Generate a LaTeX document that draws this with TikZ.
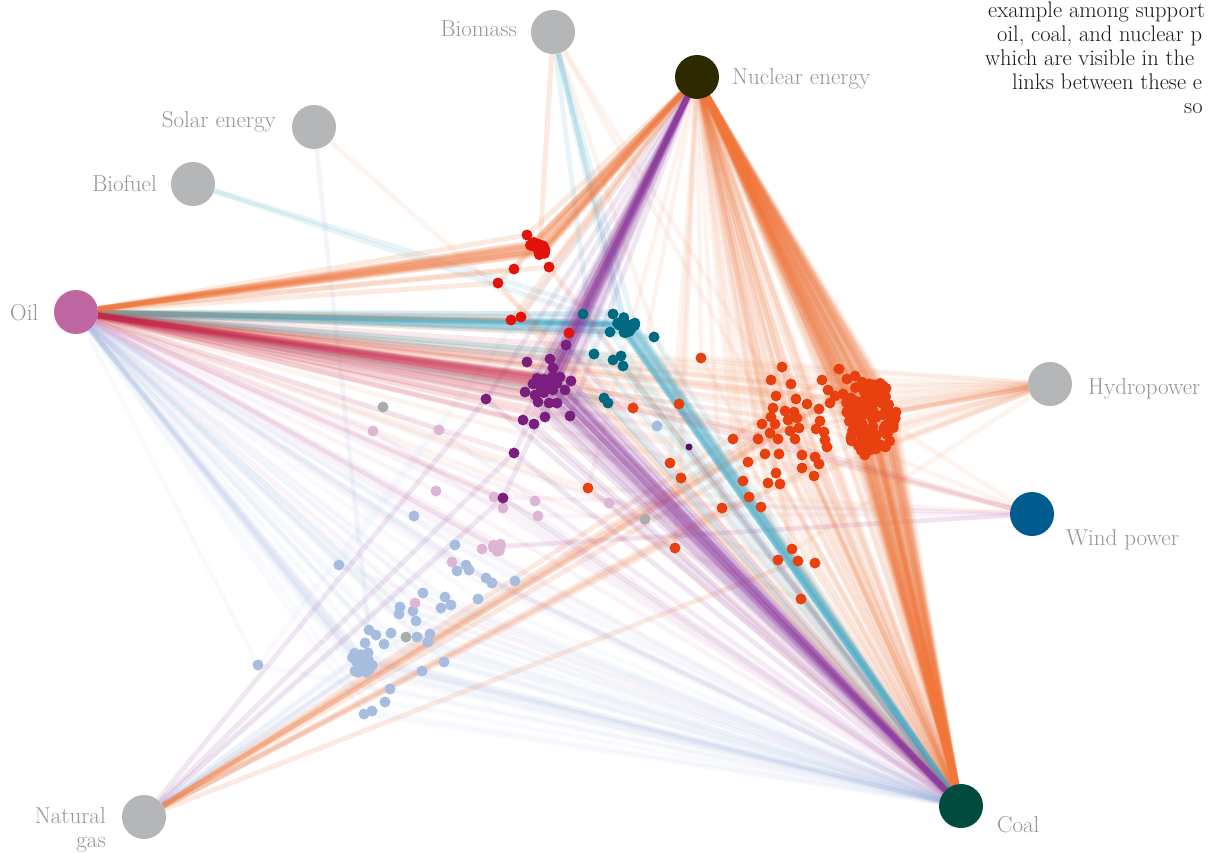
\documentclass[tikz,border=0pt]{standalone}
\usepackage{fontspec}
\pgfdeclarelayer{bg}
\pgfsetlayers{bg,main}
\definecolor{cRed}{HTML}{E3120B}
\definecolor{cTeal}{HTML}{006A80}
\definecolor{cPur}{HTML}{7B1F7E}
\definecolor{cDPur}{HTML}{5A0F62}
\definecolor{cOra}{HTML}{E8400F}
\definecolor{cLb}{HTML}{A7BDE0}
\definecolor{cPk}{HTML}{DDB6D6}
\definecolor{cGr}{HTML}{A9ACAC}
\definecolor{hubGr}{HTML}{B4B6B7}
\definecolor{cNuc}{HTML}{2E2A00}
\definecolor{cOil}{HTML}{C066A2}
\definecolor{cWind}{HTML}{005C8E}
\definecolor{cCoal}{HTML}{004A3E}
\definecolor{lblGr}{HTML}{959595}
\definecolor{lOra}{HTML}{F0763A}
\definecolor{lTeal}{HTML}{4FB0CC}
\definecolor{lPur}{HTML}{8E3C9E}
\definecolor{lCrim}{HTML}{C8284E}
\definecolor{lLb}{HTML}{9CB2E4}
\definecolor{lPk}{HTML}{D49ACB}
\newcommand{\myblob}[7]{%
  \foreach \k in {1,...,#6}{%
    \pgfmathsetmacro\ang{360*rnd}%
    \pgfmathsetmacro\rr{sqrt(rnd)}%
    \node[dot,fill=#7] (#1\k) at ({#2+#4*\rr*cos(\ang)},{#3+#5*\rr*sin(\ang)}) {};}}
\def\Rlist{527/235,549/267,514/269,498/283,511/320,521/317,569/333}
\def\Tlist{583/314,613/314,610/332,654/337,594/354,613/360,621/356,623/366,604/398,608/403}
\def\Plist{566/345,550/359,527/362,553/368,560/377,571/381,565/390,525/392,533/384,486/399,523/420,534/424,545/417,570/416,557/403,535/395,538/402,549/403,514/453,503/498}
\def\Olist{782/367,839/369,771/380,791/384,822/380,847/379,855/376,862/382,872/385,776/396,796/399,807/404,828/390,835/396,843/394,830/403,773/408,785/411,794/412,819/409,771/417,788/420,797/418,820/421,762/424,775/424,799/428,790/431,816/429,824/432,770/433,758/439,778/439,795/439,825/440,733/439,827/447,765/454,779/454,802/455,815/457,748/462,802/468,819/464,776/473,814/476,743/481,768/483,780/484,749/497,701/358,679/404,633/408,670/463,681/478,722/508,761/507,588/488,675/548,792/549,778/560,798/561,815/563,801/599}
\def\Llist{414/516,455/545,339/565,466/565,457/571,469/570,486/578,492/583,515/581,423/593,445/597,478/599,400/607,399/614,413/611,441/608,451/605,416/621,369/630,376/635,391/633,417/637,430/634,428/642,384/644,365/643,258/665,422/671,444/662,390/689,385/702,372/711,364/714,657/426}
\def\Klist{373/431,439/430,436/491,494/497,503/508,535/501,538/516,482/549,452/562,415/603,609/503}
\begin{document}
\begin{tikzpicture}[x=1pt,y=-1pt,
  dot/.style={circle,inner sep=0pt,minimum size=11pt},
  hub/.style={circle,inner sep=0pt,minimum size=44pt},
  lbl/.style={text=lblGr,font=\fontsize{23}{24}\selectfont,inner sep=0pt},
  body/.style={text=black!90,font=\fontsize{22.5}{24}\selectfont,inner sep=0pt,anchor=base west},
  lo/.style={line width=4.5pt,draw=lOra,opacity=0.075},
  lr/.style={line width=5pt,draw=lOra,opacity=0.15},
  lt/.style={line width=5pt,draw=lTeal,opacity=0.13},
  lp/.style={line width=5pt,draw=lPur,opacity=0.12},
  lc/.style={line width=5pt,draw=lCrim,opacity=0.10},
  ll/.style={line width=4.5pt,draw=lLb,opacity=0.06},
  lk/.style={line width=4.5pt,draw=lPk,opacity=0.10}]
\useasboundingbox (0,0) rectangle (1209,853);
\clip (0,0) rectangle (1209,853);
\pgfmathsetseed{11}
% hubs
\node[hub,fill=hubGr] (bio) at (553,32) {};
\node[hub,fill=cNuc] (nuc) at (697,77) {};
\node[hub,fill=hubGr] (sol) at (314,127) {};
\node[hub,fill=hubGr] (bfu) at (193,184) {};
\node[hub,fill=cOil] (oil) at (76,312) {};
\node[hub,fill=hubGr] (hyd) at (1050,384) {};
\node[hub,fill=cWind] (wnd) at (1032,514) {};
\node[hub,fill=hubGr] (gas) at (144,817) {};
\node[hub,fill=cCoal] (coal) at (961,806) {};
% hub labels
\node[lbl,anchor=base east] (bioL) at (517,37) {Biomass};
\node[lbl,anchor=base west] (nucL) at (732,85) {Nuclear energy};
\node[lbl,anchor=base east] (solL) at (276,128) {Solar energy};
\node[lbl,anchor=base east] (bfuL) at (157,191) {Biofuel};
\node[lbl,anchor=base west] (oilL) at (10,320) {Oil};
\node[lbl,anchor=base west] (hydL) at (1088,394) {Hydropower};
\node[lbl,anchor=base west] (wndL) at (1066,545) {Wind power};
\node[lbl,anchor=base east] (gasL1) at (106,823) {Natural};
\node[lbl,anchor=base east] (gasL2) at (106,847) {gas};
\node[lbl,anchor=base west] (coalL) at (997,832) {Coal};
% text block, top right (visible part only)
\node[body] (t1) at (988,18) {example among support};
\node[body] (t2) at (997,42) {oil, coal, and nuclear p};
\node[body] (t3) at (985,66) {which are visible in the};
\node[body] (t4) at (1012,90) {links between these e};
\node[body] (t5) at (1184,114) {so};
% dots
\foreach \x/\y [count=\i] in \Llist {\node[dot,fill=cLb] (l\i) at (\x,\y) {};}
\foreach \x/\y [count=\i] in \Klist {\node[dot,fill=cPk] (k\i) at (\x,\y) {};}
\foreach \x/\y [count=\i] in \Olist {\node[dot,fill=cOra] (o\i) at (\x,\y) {};}
\foreach \x/\y [count=\i] in \Tlist {\node[dot,fill=cTeal] (t\i) at (\x,\y) {};}
\foreach \x/\y [count=\i] in \Rlist {\node[dot,fill=cRed] (r\i) at (\x,\y) {};}
\foreach \x/\y [count=\i] in \Plist {\node[dot,fill=cPur] (p\i) at (\x,\y) {};}
\myblob{lb}{362}{663}{14}{12}{28}{cLb}
\myblob{kb}{499}{548}{8}{5}{9}{cPk}
\myblob{ob}{870}{418}{27}{38}{110}{cOra}
\myblob{tb}{627}{325}{11}{9}{20}{cTeal}
\myblob{rb}{538}{248}{9}{8}{15}{cRed}
\myblob{pb}{546}{383}{11}{10}{18}{cPur}
\node[dot,fill=cGr] (g1) at (383,407) {};
\node[dot,fill=cGr] (g2) at (406,637) {};
\node[dot,fill=cGr] (g3) at (645,519) {};
\node[circle,inner sep=0pt,minimum size=7pt,fill=cDPur] (dp) at (689,447) {};
% connectors
\begin{pgfonlayer}{bg}
\fill[white] (0,0) rectangle (1209,853);
% light blue
\foreach \x/\y [count=\i] in \Llist {\draw[ll] (oil) -- (l\i); \draw[ll] (coal) -- (l\i);}
\foreach \k in {1,4,...,28} {\draw[ll] (oil) -- (lb\k); \draw[ll] (coal) -- (lb\k);}
\foreach \k in {2,6,...,28} {\draw[ll] (gas) -- (lb\k);}
\foreach \i in {2,9,17,30} {\draw[ll] (gas) -- (l\i);}
\draw[ll] (sol) -- (lb3); \draw[ll] (sol) -- (l19);
\draw[ll] (nuc) -- (l3); \draw[ll] (nuc) -- (l27);
% pink
\foreach \x/\y [count=\i] in \Klist {\draw[lk] (oil) -- (k\i); \draw[lk] (coal) -- (k\i);}
\foreach \k in {1,3,...,9} {\draw[lk] (oil) -- (kb\k);}
\foreach \k in {2,5,8} {\draw[lk] (wnd) -- (kb\k);}
\foreach \i in {4,7,11} {\draw[lk] (wnd) -- (k\i);}
% orange
\foreach \x/\y [count=\i] in \Olist {\draw[lo] (nuc) -- (o\i); \draw[lo] (coal) -- (o\i);}
\foreach \k in {1,...,110} {\draw[lo] (nuc) -- (ob\k); \draw[lo] (coal) -- (ob\k);}
\foreach \i in {1,4,...,64} {\draw[lo] (oil) -- (o\i);}
\foreach \k in {3,13,...,110} {\draw[lo] (oil) -- (ob\k);}
\foreach \i in {2,8,...,64} {\draw[lr] (gas) -- (o\i);}
\foreach \i in {1,6,...,64} {\draw[lo] (hyd) -- (o\i);}
\foreach \k in {2,9,...,110} {\draw[lo] (hyd) -- (ob\k);}
\foreach \i in {5,17,40,58} {\draw[lo] (wnd) -- (o\i);}
\foreach \i in {3,21,52} {\draw[lo] (bio) -- (o\i);}
\draw[lo] (sol) -- (o53);
% teal
\foreach \x/\y [count=\i] in \Tlist {\draw[lt] (oil) -- (t\i); \draw[lt] (coal) -- (t\i);}
\foreach \k in {1,...,20} {\draw[lt] (oil) -- (tb\k); \draw[lt] (coal) -- (tb\k);}
\foreach \k in {1,5,9,13} {\draw[lt] (bio) -- (tb\k);}
\draw[lt] (bio) -- (t5); \draw[lt] (bfu) -- (tb2); \draw[lt] (bfu) -- (t1);
% red
\foreach \x/\y [count=\i] in \Rlist {\draw[lr] (oil) -- (r\i); \draw[lr] (nuc) -- (r\i);}
\foreach \k in {1,...,15} {\draw[lr] (oil) -- (rb\k); \draw[lr] (nuc) -- (rb\k);}
\foreach \i in {2,4,6} {\draw[lr] (coal) -- (r\i);}
\draw[lr] (bio) -- (rb1);
% purple
\foreach \x/\y [count=\i] in \Plist {\draw[lp] (nuc) -- (p\i); \draw[lp] (coal) -- (p\i); \draw[lc] (oil) -- (p\i);}
\foreach \k in {1,...,18} {\draw[lp] (nuc) -- (pb\k); \draw[lp] (coal) -- (pb\k); \draw[lc] (oil) -- (pb\k);}
\foreach \i in {10,19,20} {\draw[lp] (gas) -- (p\i);}
\draw[lc] (wnd) -- (pb2); \draw[lc] (wnd) -- (p7);
\draw[lp] (coal) -- (dp);
\end{pgfonlayer}
\end{tikzpicture}
\end{document}
